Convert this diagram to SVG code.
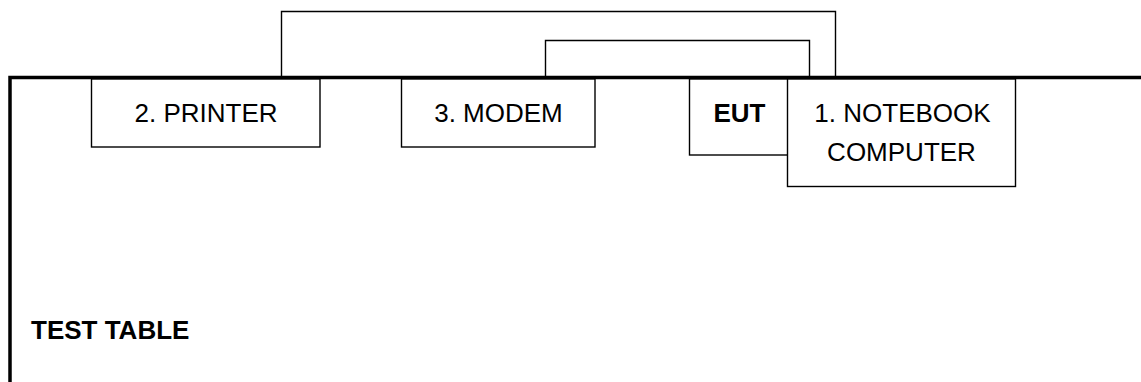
<svg xmlns="http://www.w3.org/2000/svg" width="1141" height="382" viewBox="0 0 1141 382">
<style>
.box{fill:#fff;stroke:#000;stroke-width:1.4}
.wire{fill:none;stroke:#000;stroke-width:1.4}
.table{fill:none;stroke:#000;stroke-width:3.5}
text{font-family:"Liberation Sans",Arial,sans-serif;font-size:26px;fill:#000;text-anchor:middle}
.b{font-weight:bold}
</style>
<rect width="1141" height="382" fill="#fff"/>
<g id="connectors">
<polyline class="wire" points="281.5,78 281.5,11.5 835.5,11.5 835.5,78"/>
<polyline class="wire" points="545.5,78 545.5,40.5 809.5,40.5 809.5,78"/>
</g>
<g id="table">
<polyline class="table" points="1141,77.5 10,77.5 10,382"/>
<text class="b" x="31" y="339" style="text-anchor:start">TEST TABLE</text>
</g>
<g id="printer">
<rect class="box" x="91.5" y="79" width="228.5" height="68"/>
<text x="206" y="121.5">2. PRINTER</text>
</g>
<g id="modem">
<rect class="box" x="401.5" y="79" width="193.5" height="68"/>
<text x="498.5" y="121.5">3. MODEM</text>
</g>
<g id="eut">
<rect class="box" x="689.5" y="79" width="110" height="76"/>
<text class="b" x="739.5" y="121.5">EUT</text>
</g>
<g id="notebook">
<rect class="box" x="787.5" y="79" width="228" height="107.5"/>
<text x="902.5" y="121.5">1. NOTEBOOK</text>
<text x="901.5" y="161">COMPUTER</text>
</g>
</svg>
